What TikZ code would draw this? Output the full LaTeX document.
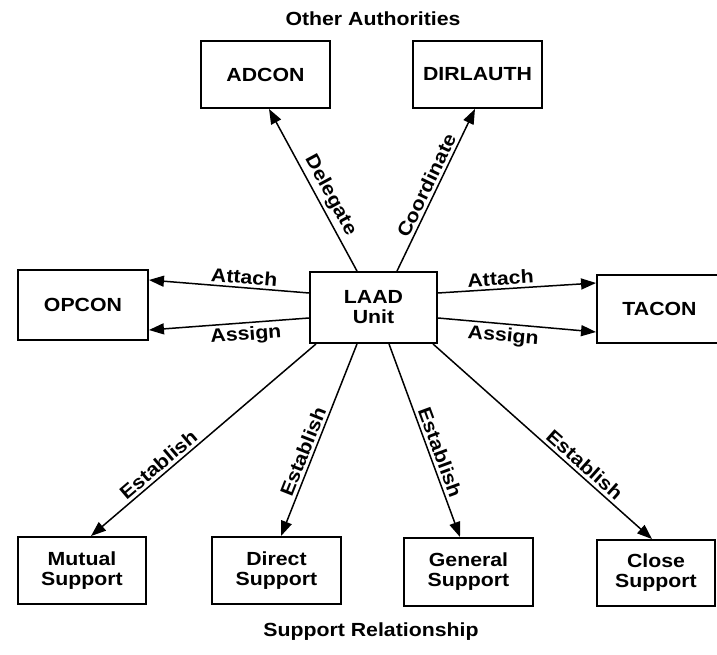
\documentclass[tikz,border=0pt]{standalone}
\usepackage{fontspec}
\setmainfont{Liberation Sans}[FakeStretch=1.12]
\usetikzlibrary{arrows.meta}
\begin{document}
\begin{tikzpicture}[x=1pt,y=-1pt,
  box/.style={draw,line width=1.9pt,align=center,inner sep=0pt,font=\fontsize{19}{20}\selectfont\bfseries},
  lbl/.style={font=\fontsize{19}{20}\selectfont\bfseries,inner sep=3pt},
  arr/.style={line width=1.5pt,-{Triangle[length=15pt,width=11pt]}}]
\clip (0,0) rectangle (717,655);
\fill[white] (0,0) rectangle (717,655);
% titles
\node[lbl] (oth) at (373,19) {Other Authorities};
\node[lbl] (sup) at (371,632) {Support Relationship};
% boxes
\node[box,minimum width=129pt,minimum height=67pt] (adcon) at (265.5,74.5) {ADCON};
\node[box,minimum width=129pt,minimum height=67pt] (dirl) at (477.5,74.5) {DIRLAUTH};
\node[box,minimum width=130pt,minimum height=70pt] (opcon) at (83,305) {OPCON};
\node[box,minimum width=127pt,minimum height=71pt] (laad) at (373.5,307.5) {LAAD\\Unit};
\node[box,minimum width=125pt,minimum height=68pt] (tacon) at (659.5,309) {TACON};
\node[box,minimum width=128pt,minimum height=67pt] (mut) at (82,570.5) {Mutual\\Support};
\node[box,minimum width=129pt,minimum height=67pt] (dir) at (276.5,570.5) {Direct\\Support};
\node[box,minimum width=129pt,minimum height=68pt] (gen) at (468.5,572) {General\\Support};
\node[box,minimum width=118pt,minimum height=66pt] (clo) at (656,573) {Close\\Support};
% top arrows
\draw[arr] ([xshift=-16.5pt]laad.north) -- node[lbl,sloped,above,pos=0.43] {Delegate} ([xshift=3.5pt]adcon.south);
\draw[arr] ([xshift=23.5pt]laad.north) -- node[lbl,sloped,above,pos=0.5] {Coordinate} ([xshift=-2.5pt]dirl.south);
% side arrows
\draw[arr] ([yshift=14.5pt]laad.west) -- node[lbl,sloped,above,pos=0.41] {Attach} ([yshift=25pt]opcon.east);
\draw[arr] ([yshift=-10.5pt]laad.west) -- node[lbl,sloped,below,pos=0.4] {Assign} ([yshift=-25pt]opcon.east);
\draw[arr] ([yshift=14.5pt]laad.east) -- node[lbl,sloped,above,pos=0.4] {Attach} ([yshift=26pt]tacon.west);
\draw[arr] ([yshift=-10.5pt]laad.east) -- node[lbl,sloped,below,pos=0.42] {Assign} ([yshift=-23pt]tacon.west);
% bottom arrows
\draw[arr] ([xshift=-57.5pt]laad.south) -- node[lbl,sloped,above,pos=0.67] {Establish} ([xshift=9pt]mut.north);
\draw[arr] ([xshift=-16.5pt]laad.south) -- node[lbl,sloped,above,pos=0.58] {Establish} ([xshift=4.5pt]dir.north);
\draw[arr] ([xshift=15.5pt]laad.south) -- node[lbl,sloped,above,pos=0.58] {Establish} ([xshift=-8.5pt]gen.north);
\draw[arr] ([xshift=59.5pt]laad.south) -- node[lbl,sloped,above,pos=0.66] {Establish} ([xshift=-4pt]clo.north);
\end{tikzpicture}
\end{document}
